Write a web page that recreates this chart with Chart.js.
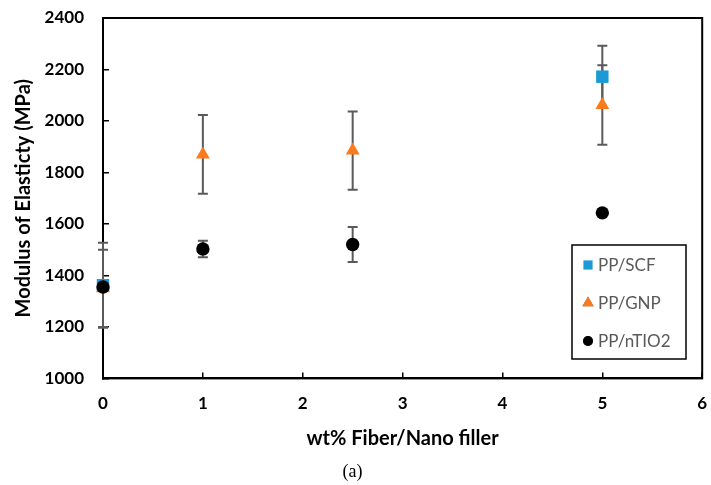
<!DOCTYPE html>
<html>
<head>
<meta charset="utf-8">
<script src="https://cdn.jsdelivr.net/npm/chart.js@4/dist/chart.umd.min.js"></script>
<style>
  html, body { margin: 0; background: #fff; }
  #wrap { width: 711px; height: 485px; }
</style>
</head>
<body>
<div id="wrap"><canvas id="chart"></canvas></div>
<script>
// values
const seriesNames = ['PP/SCF', 'PP/GNP', 'PP/nTIO2'];
const scfX = [0, 5];
const scfY = [1362, 2172];
const scfErr = [165, 120];
const gnpX = [0, 1, 2.5, 5];
const gnpY = [1350, 1870, 1885, 2062];
const gnpErr = [150, 153, 152, 154];
const tioX = [0, 1, 2.5, 5];
const tioY = [1355, 1503, 1520, 1643];
const tioErr = [15, 32, 68, 8];
const xTicks = [0, 1, 2, 3, 4, 5, 6];
const yTicks = [1000, 1200, 1400, 1600, 1800, 2000, 2200, 2400];

const BLUE = '#1a9bd7';
const ORANGE = '#fb7a1c';
const BLACK = '#000000';
const ERR_COLOR = '#5a5a5a';

function pts(xs, ys, errs) {
  return xs.map((x, i) => ({ x: x, y: ys[i], err: errs[i] }));
}

// vertical error bars with caps, drawn under the markers
const errorBars = {
  id: 'errorBars',
  beforeDatasetsDraw(chart) {
    const { ctx, scales: { x, y } } = chart;
    ctx.save();
    ctx.strokeStyle = ERR_COLOR;
    ctx.lineWidth = 2;
    chart.data.datasets.forEach((ds) => {
      ds.data.forEach((p) => {
        if (!p.err) return;
        const px = x.getPixelForValue(p.x);
        const top = y.getPixelForValue(p.y + p.err);
        const bot = y.getPixelForValue(p.y - p.err);
        ctx.beginPath();
        ctx.moveTo(px, top); ctx.lineTo(px, bot);
        ctx.moveTo(px - 5, top); ctx.lineTo(px + 5, top);
        ctx.moveTo(px - 5, bot); ctx.lineTo(px + 5, bot);
        ctx.stroke();
      });
    });
    ctx.restore();
  }
};

// box round the plot area
const frame = {
  id: 'frame',
  beforeDatasetsDraw(chart) {
    const { ctx, chartArea: a } = chart;
    ctx.save();
    ctx.strokeStyle = '#000';
    ctx.lineWidth = 2;
    ctx.strokeRect(a.left, a.top, a.right - a.left, a.bottom - a.top);
    ctx.restore();
  }
};

// legend box inside the plot, lower right
const boxLegend = {
  id: 'boxLegend',
  afterDatasetsDraw(chart) {
    const { ctx } = chart;
    const bx = 572, by = 245, bw = 114, bh = 114;
    ctx.save();
    ctx.fillStyle = '#fff';
    ctx.fillRect(bx, by, bw, bh);
    ctx.strokeStyle = '#000';
    ctx.lineWidth = 1.5;
    ctx.strokeRect(bx, by, bw, bh);
    ctx.font = '17px Lato';
    ctx.textBaseline = 'middle';
    chart.data.datasets.forEach((ds, i) => {
      const cy = by + 20 + i * 38;
      Chart.helpers.drawPoint(ctx, {
        pointStyle: ds.pointStyle,
        radius: ds.legendRadius,
        borderWidth: 0
      }, bx + 16, cy);
      ctx.fillStyle = ds.backgroundColor;
      ctx.fill();
      ctx.fillStyle = '#595959';
      ctx.fillText(ds.label, bx + 26, cy + 1);
    });
    ctx.restore();
  }
};

new Chart(document.getElementById('chart'), {
  type: 'scatter',
  data: {
    datasets: [
      {
        label: seriesNames[0],
        data: pts(scfX, scfY, scfErr),
        pointStyle: 'rect',
        pointRadius: 8.8,
        legendRadius: 6.5,
        backgroundColor: BLUE,
        borderColor: BLUE,
        borderWidth: 0,
        order: 1,
        clip: false
      },
      {
        label: seriesNames[1],
        data: pts(gnpX, gnpY, gnpErr),
        pointStyle: 'triangle',
        pointRadius: 8,
        legendRadius: 6.5,
        backgroundColor: ORANGE,
        borderColor: ORANGE,
        borderWidth: 0,
        order: 2,
        clip: false
      },
      {
        label: seriesNames[2],
        data: pts(tioX, tioY, tioErr),
        pointStyle: 'circle',
        pointRadius: 6.7,
        legendRadius: 5,
        backgroundColor: BLACK,
        borderColor: BLACK,
        borderWidth: 0,
        order: 0,
        clip: false
      }
    ]
  },
  options: {
    responsive: true,
    maintainAspectRatio: false,
    animation: false,
    events: [],
    layout: { padding: { top: 18, right: 6, left: 0, bottom: 2 } },
    plugins: {
      legend: { display: false },
      tooltip: { enabled: false },
      subtitle: {
        display: true,
        text: '(a)',
        position: 'bottom',
        color: '#000',
        font: { family: 'Liberation Serif', size: 18, weight: 'normal' },
        padding: { top: 6, bottom: 0 }
      }
    },
    scales: {
      x: {
        type: 'linear',
        min: 0,
        max: 6,
        afterBuildTicks: (s) => { s.ticks = xTicks.map((v) => ({ value: v })); },
        afterFit: (s) => { s.height = 77; s.paddingLeft = 0; s.paddingRight = 0; },
        ticks: {
          color: '#000',
          padding: 21,
          callback: (v) => String(v),
          font: { family: 'Lato', size: 17, weight: 'bold' }
        },
        grid: { drawOnChartArea: false, drawTicks: true, tickLength: -6, color: '#000', lineWidth: 1.5 },
        border: { color: '#000', width: 2 },
        title: {
          display: true,
          text: 'wt% Fiber/Nano filler',
          color: '#000',
          font: { family: 'Lato', size: 20, weight: 'bold' },
          padding: { top: 0, bottom: 5 }
        }
      },
      y: {
        min: 1000,
        max: 2400,
        afterBuildTicks: (s) => { s.ticks = yTicks.map((v) => ({ value: v })); },
        afterFit: (s) => { s.width = 103; s.paddingTop = 0; s.paddingBottom = 0; },
        ticks: {
          color: '#000',
          padding: 25,
          callback: (v) => String(v),
          font: { family: 'Lato', size: 17, weight: 'bold' }
        },
        grid: { drawOnChartArea: false, drawTicks: true, tickLength: -6, color: '#000', lineWidth: 1.5 },
        border: { color: '#000', width: 2 },
        title: {
          display: true,
          text: 'Modulus of Elasticty (MPa)',
          color: '#000',
          font: { family: 'Lato', size: 20, weight: 'bold' },
          padding: { top: 12, bottom: 0 }
        }
      }
    }
  },
  plugins: [frame, errorBars, boxLegend]
});
</script>
</body>
</html>
